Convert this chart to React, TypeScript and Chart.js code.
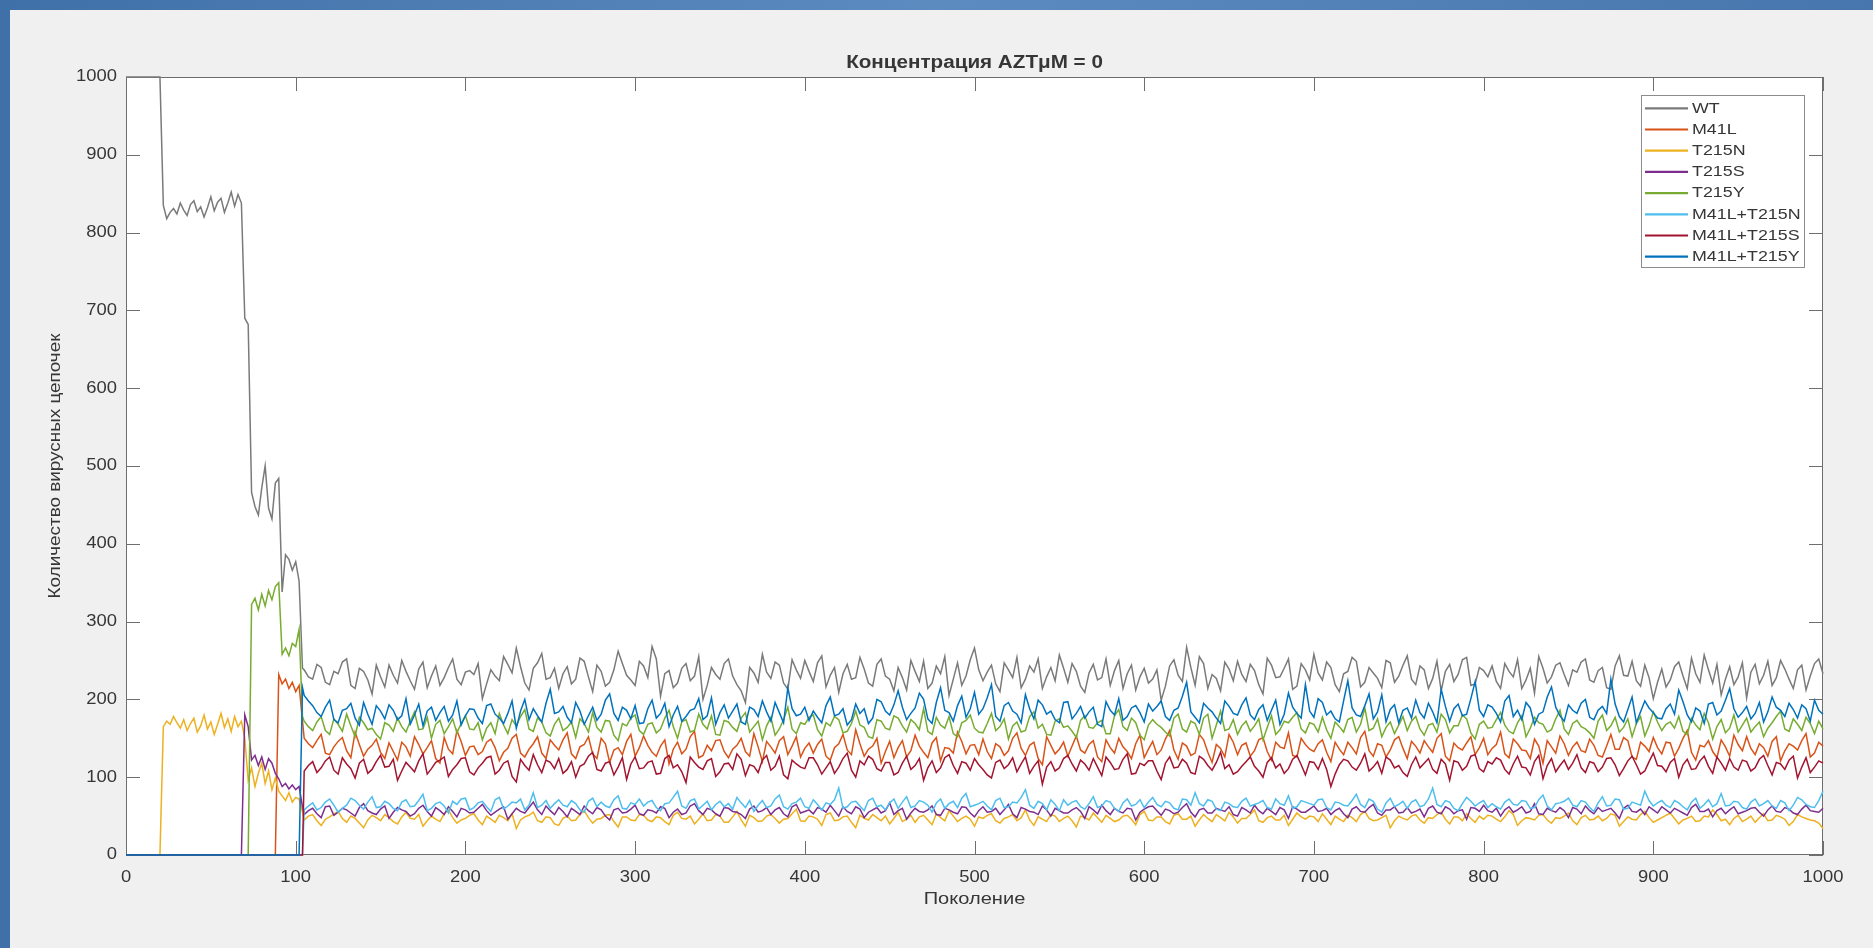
import React, { useEffect, useRef } from "react";
import { Chart, registerables } from "chart.js";

Chart.register(...registerables);

const chartTitle = "Концентрация AZTμM = 0";
const xAxisTitle = "Поколение";
const yAxisTitle = "Количество вирусных цепочек";

const seriesNames = ["WT", "M41L", "T215N", "T215S", "T215Y", "M41L+T215N", "M41L+T215S", "M41L+T215Y"];
const seriesColors = ["#7a7a7a", "#D95319", "#EDB120", "#7E2F8E", "#77AC30", "#4DBEEE", "#A2142F", "#0072BD"];

const xTickValues = [0, 100, 200, 300, 400, 500, 600, 700, 800, 900, 1000];
const yTickValues = [0, 100, 200, 300, 400, 500, 600, 700, 800, 900, 1000];

// generations 0..104 (early phase), then 105..1000 every 2.5 generations
const earlyGenerations = [0, 10, 20, 22, 24, 26, 28, 30, 32, 34, 36, 38, 40, 42, 44, 46, 48, 50, 52, 54, 56, 58, 60, 62, 64, 66, 68, 70, 72, 74, 76, 78, 80, 82, 84, 86, 88, 90, 92, 94, 96, 98, 100, 102, 104];
const lateGenerations = Array.from({ length: 359 }, (_, i) => 105 + 2.5 * i);

// early phase values
const wtEarly = [1000, 1000, 1000, 835, 818, 826, 831, 824, 838, 829, 822, 836, 841, 827, 833, 820, 832, 846, 828, 839, 844, 826, 838, 852, 834, 849, 838, 690, 682, 466, 448, 437, 472, 500, 446, 432, 478, 484, 338, 386, 380, 366, 377, 352, 240];
const m41lEarly = [0, 0, 0, 0, 0, 0, 0, 0, 0, 0, 0, 0, 0, 0, 0, 0, 0, 0, 0, 0, 0, 0, 0, 0, 0, 0, 0, 0, 0, 0, 0, 0, 0, 0, 0, 0, 0, 232, 220, 226, 214, 222, 210, 218, 172];
const t215nEarly = [0, 0, 0, 165, 172, 168, 178, 170, 163, 174, 160, 169, 176, 158, 166, 180, 162, 171, 155, 168, 182, 164, 175, 159, 178, 165, 172, 150, 96, 112, 88, 105, 118, 92, 108, 84, 99, 82, 76, 70, 80, 68, 74, 72, 55];
const t215sEarly = [0, 0, 0, 0, 0, 0, 0, 0, 0, 0, 0, 0, 0, 0, 0, 0, 0, 0, 0, 0, 0, 0, 0, 0, 0, 0, 0, 180, 165, 122, 128, 115, 126, 110, 124, 118, 105, 98, 88, 92, 85, 90, 84, 88, 62];
const t215yEarly = [0, 0, 0, 0, 0, 0, 0, 0, 0, 0, 0, 0, 0, 0, 0, 0, 0, 0, 0, 0, 0, 0, 0, 0, 0, 0, 0, 0, 0, 322, 330, 315, 335, 320, 340, 328, 345, 350, 258, 266, 256, 272, 268, 290, 178];
const m41lT215nEarly = [0, 0, 0, 0, 0, 0, 0, 0, 0, 0, 0, 0, 0, 0, 0, 0, 0, 0, 0, 0, 0, 0, 0, 0, 0, 0, 0, 0, 0, 0, 0, 0, 0, 0, 0, 0, 0, 0, 0, 0, 0, 0, 0, 0, 0];
const m41lT215sEarly = [0, 0, 0, 0, 0, 0, 0, 0, 0, 0, 0, 0, 0, 0, 0, 0, 0, 0, 0, 0, 0, 0, 0, 0, 0, 0, 0, 0, 0, 0, 0, 0, 0, 0, 0, 0, 0, 0, 0, 0, 0, 0, 0, 0, 0];
const m41lT215yEarly = [0, 0, 0, 0, 0, 0, 0, 0, 0, 0, 0, 0, 0, 0, 0, 0, 0, 0, 0, 0, 0, 0, 0, 0, 0, 0, 0, 0, 0, 0, 0, 0, 0, 0, 0, 0, 0, 0, 0, 0, 0, 0, 0, 0, 215];

// late phase: values at generations 105, 110, ..., 1000
const wtLate = [
  238, 226, 241, 219, 233, 252, 214, 236, 207, 229,
  244, 221, 236, 213, 248, 230, 218, 241, 226, 235,
  232, 201, 238, 224, 245, 266, 221, 240, 259, 228,
  214, 242, 226, 249, 210, 236, 222, 262, 231, 218,
  243, 268, 204, 237, 221, 246, 230, 200, 241, 226,
  252, 219, 196, 234, 258, 227, 244, 213, 238, 250,
  223, 256, 231, 209, 245, 228, 239, 217, 252, 226,
  241, 212, 236, 249, 221, 233, 205, 247, 230, 266,
  224, 244, 210, 238, 254, 226, 235, 214, 241, 257,
  222, 236, 209, 245, 228, 218, 250, 233, 212, 240,
  226, 199, 243, 231, 267, 218, 246, 232, 211, 239,
  249, 223, 237, 207, 244, 229, 252, 217, 238, 258,
  225, 241, 210, 236, 249, 222, 234, 215, 247, 230,
  256, 219, 238, 227, 211, 245, 232, 254, 220, 237,
  243, 214, 236, 251, 225, 208, 240, 229, 247, 218,
  235, 252, 222, 241, 213, 256, 230, 224, 244, 201,
  239, 225, 248, 214, 233, 257, 221, 206, 242, 229,
  202, 245, 231, 218, 250, 226, 238, 212, 246, 233,
];
// values at generations 107.5, 112.5, ..., 997.5
const wtMid = [
  229, 245, 222, 236, 248, 218, 240, 225, 244, 216,
  231, 250, 224, 239, 215, 243, 228, 252, 219, 237,
  246, 220, 230, 255, 234, 242, 212, 247, 226, 240,
  233, 220, 253, 229, 244, 217, 238, 246, 225, 249,
  228, 252, 233, 215, 240, 224, 255, 218, 232, 246,
  230, 211, 241, 222, 235, 248, 221, 251, 227, 236,
  247, 216, 241, 233, 226, 254, 221, 245, 230, 211,
  228, 250, 223, 214, 243, 255, 226, 218, 251, 238,
  235, 220, 247, 228, 215, 243, 252, 229, 224, 240,
  246, 217, 234, 225, 252, 237, 214, 244, 229, 221,
  238, 217, 251, 223, 241, 255, 214, 227, 248, 224,
  232, 245, 219, 253, 228, 240, 213, 246, 225, 234,
  248, 219, 233, 254, 216, 241, 227, 250, 222, 244,
  226, 243, 214, 249, 236, 223, 251, 218, 241, 229,
  223, 246, 229, 214, 240, 255, 221, 244, 232, 238,
  248, 225, 237, 215, 243, 231, 249, 217, 228, 222,
  216, 242, 230, 253, 222, 238, 245, 226, 219, 247,
  235, 220, 249, 228, 239, 214, 244, 230, 252,
];

const m41lLate = [
  150, 138, 155, 129, 146, 134, 158, 127, 141, 132,
  144, 122, 139, 152, 130, 147, 118, 136, 160, 128,
  140, 133, 149, 121, 137, 155, 126, 143, 131, 148,
  135, 157, 124, 142, 130, 150, 119, 138, 146, 127,
  153, 132, 140, 117, 145, 136, 159, 128, 134, 148,
  125, 141, 133, 156, 120, 139, 147, 129, 152, 137,
  131, 149, 122, 143, 135, 161, 127, 140, 118, 146,
  138, 126, 154, 132, 144, 121, 137, 158, 130, 142,
  149, 124, 139, 134, 157, 128, 145, 116, 141, 136,
  127, 153, 131, 147, 120, 138, 150, 133, 143, 125,
  146, 135, 160, 123, 140, 131, 148, 119, 137, 155,
  129, 144, 134, 151, 122, 139, 157, 126, 142, 133,
  148, 120, 136, 145, 130, 159, 127, 141, 135, 152,
  124, 140, 147, 132, 156, 121, 138, 144, 129, 150,
  137, 158, 125, 143, 134, 149, 118, 139, 153, 128,
  145, 132, 141, 126, 155, 136, 147, 123, 140, 151,
  130, 144, 137, 160, 122, 139, 133, 148, 127, 142,
  152, 129, 138, 146, 121, 143, 135, 156, 131, 140,
];
const m41lMid = [
  143, 147, 131, 139, 151, 125, 142, 136, 149, 124,
  133, 145, 127, 142, 138, 124, 151, 130, 146, 139,
  129, 145, 138, 132, 150, 131, 136, 152, 124, 141,
  148, 130, 139, 152, 124, 143, 135, 129, 155, 138,
  141, 127, 148, 136, 130, 152, 125, 141, 147, 133,
  136, 150, 127, 139, 146, 131, 152, 140, 126, 144,
  142, 127, 138, 155, 129, 143, 136, 150, 133, 125,
  147, 134, 140, 125, 151, 138, 131, 146, 141, 129,
  133, 143, 128, 150, 137, 141, 124, 152, 130, 145,
  140, 135, 142, 126, 148, 131, 139, 124, 154, 136,
  129, 149, 135, 144, 128, 155, 132, 142, 126, 145,
  141, 127, 148, 133, 145, 137, 128, 150, 136, 143,
  132, 145, 129, 138, 151, 134, 143, 126, 148, 137,
  146, 131, 139, 150, 127, 144, 135, 152, 138, 129,
  142, 130, 149, 135, 124, 140, 147, 131, 143, 139,
  134, 149, 128, 140, 136, 151, 126, 145, 133, 138,
  145, 127, 150, 132, 141, 147, 125, 139, 154, 134,
  137, 143, 127, 152, 134, 140, 147, 126, 145,
];

const t215nLate = [
  45, 52, 38, 49, 56, 42, 47, 35, 51, 44,
  48, 40, 55, 46, 37, 50, 43, 58, 41, 47,
  53, 39, 46, 51, 44, 34, 49, 55, 42, 48,
  38, 50, 45, 57, 41, 47, 52, 36, 49, 44,
  51, 43, 48, 39, 55, 46, 40, 53, 45, 50,
  42, 56, 37, 48, 44, 52, 41, 47, 59, 43,
  49, 38, 54, 45, 50, 35, 47, 52, 44, 40,
  55, 46, 42, 51, 39, 48, 57, 43, 50, 37,
  47, 53, 41, 49, 44, 58, 38, 46, 52, 43,
  50, 36, 48, 54, 42, 47, 45, 51, 39, 56,
  44, 49, 40, 53, 46, 37, 52, 43, 48, 55,
  41, 47, 58, 42, 50, 45, 38, 54, 46, 49,
  53, 39, 46, 51, 43, 56, 44, 48, 35, 50,
  45, 52, 41, 47, 55, 40, 49, 53, 42, 46,
  50, 43, 57, 38, 48, 45, 52, 41, 47, 54,
  39, 51, 46, 44, 53, 37, 49, 45, 56, 42,
  48, 54, 40, 47, 43, 50, 58, 44, 39, 51,
  46, 42, 53, 45, 49, 38, 52, 47, 44, 34,
];
const t215nMid = [
  50, 44, 46, 53, 47, 50, 41, 45, 48, 52,
  43, 49, 47, 52, 44, 46, 53, 48, 45, 51,
  45, 50, 42, 48, 53, 45, 51, 44, 49, 40,
  47, 44, 52, 48, 46, 51, 43, 49, 45, 52,
  45, 49, 43, 51, 47, 50, 46, 44, 52, 42,
  49, 45, 51, 43, 50, 47, 46, 53, 44, 50,
  46, 52, 44, 49, 42, 51, 45, 48, 50, 47,
  43, 51, 49, 45, 53, 44, 50, 47, 46, 49,
  51, 44, 47, 52, 48, 45, 49, 43, 50, 47,
  44, 50, 45, 48, 51, 43, 50, 46, 52, 45,
  49, 43, 51, 46, 50, 45, 47, 52, 44, 49,
  47, 52, 44, 48, 45, 51, 46, 49, 50, 43,
  46, 50, 43, 48, 52, 47, 45, 51, 44, 47,
  50, 45, 48, 52, 46, 49, 44, 47, 50, 51,
  46, 49, 52, 44, 47, 51, 45, 48, 50, 44,
  48, 45, 50, 47, 51, 43, 46, 52, 48, 45,
  51, 47, 45, 50, 44, 49, 52, 46, 47, 43,
  50, 48, 44, 51, 46, 43, 49, 45, 41,
];

const t215sLate = [
  52, 60, 48, 63, 55, 58, 50, 66, 54, 59,
  47, 61, 56, 53, 64, 50, 57, 62, 49, 58,
  55, 65, 51, 59, 46, 60, 54, 68, 52, 57,
  61, 49, 56, 63, 53, 58, 45, 60, 55, 64,
  51, 57, 62, 48, 59, 54, 66, 52, 58, 50,
  60, 55, 47, 63, 57, 52, 61, 49, 65, 56,
  53, 59, 64, 50, 56, 62, 48, 58, 54, 67,
  57, 46, 60, 55, 63, 51, 58, 53, 61, 49,
  62, 56, 52, 65, 48, 59, 55, 63, 50, 57,
  54, 61, 47, 58, 64, 52, 56, 60, 45, 59,
  63, 51, 57, 55, 66, 49, 60, 54, 58, 62,
  50, 58, 64, 53, 56, 61, 47, 59, 55, 63,
  57, 52, 60, 48, 62, 55, 65, 51, 58, 54,
  61, 56, 49, 63, 53, 59, 57, 46, 60, 64,
  55, 50, 62, 58, 54, 66, 52, 57, 61, 48,
  59, 63, 53, 56, 60, 47, 64, 55, 52, 58,
  62, 54, 57, 51, 65, 56, 49, 60, 58, 53,
  57, 61, 50, 63, 55, 59, 52, 64, 56, 60,
];
const t215sMid = [
  57, 53, 62, 51, 60, 54, 61, 57, 52, 63,
  55, 58, 50, 60, 56, 61, 52, 56, 60, 54,
  60, 57, 55, 62, 53, 56, 61, 58, 63, 52,
  56, 60, 52, 57, 61, 50, 58, 54, 59, 53,
  58, 54, 60, 55, 52, 63, 57, 60, 53, 61,
  56, 52, 59, 55, 61, 58, 53, 62, 54, 58,
  61, 55, 57, 62, 53, 59, 55, 61, 57, 52,
  60, 54, 56, 58, 52, 60, 55, 62, 54, 57,
  55, 60, 58, 53, 61, 56, 52, 58, 60, 54,
  58, 56, 62, 53, 57, 60, 54, 59, 55, 62,
  57, 59, 53, 61, 55, 58, 54, 60, 56, 52,
  61, 54, 57, 60, 52, 58, 62, 55, 59, 56,
  60, 57, 53, 59, 56, 61, 54, 58, 62, 55,
  54, 59, 60, 55, 62, 53, 58, 61, 56, 57,
  60, 58, 55, 62, 56, 53, 60, 55, 57, 61,
  53, 57, 61, 58, 54, 60, 56, 59, 62, 54,
  58, 60, 54, 61, 56, 59, 57, 53, 62, 55,
  60, 55, 58, 56, 61, 54, 59, 57, 55,
];

const t215yLate = [
  172, 160, 178, 155, 168, 181, 152, 170, 163, 149,
  167, 176, 158, 184, 162, 150, 173, 165, 157, 179,
  161, 148, 170, 182, 156, 166, 187, 159, 171, 153,
  176, 164, 151, 169, 183, 158, 172, 147, 166, 180,
  155, 170, 162, 186, 150, 174, 160, 168, 179, 154,
  171, 159, 183, 165, 148, 177, 162, 190, 156, 168,
  180, 153, 166, 174, 159, 185, 164, 150, 172, 161,
  176, 158, 169, 188, 155, 167, 178, 152, 173, 163,
  157, 182, 165, 149, 171, 160, 184, 168, 154, 175,
  166, 151, 179, 163, 173, 156, 187, 160, 170, 148,
  174, 164, 153, 181, 158, 169, 176, 150, 185, 162,
  155, 172, 166, 148, 179, 161, 170, 183, 157, 168,
  177, 150, 165, 174, 158, 189, 163, 152, 171, 167,
  160, 178, 154, 169, 181, 157, 166, 175, 149, 172,
  164, 183, 159, 170, 152, 177, 168, 161, 186, 155,
  173, 162, 150, 180, 166, 158, 175, 169, 153, 184,
  160, 171, 178, 155, 167, 182, 149, 174, 163, 158,
  176, 165, 152, 170, 185, 159, 168, 177, 156, 162,
];
const t215yMid = [
  165, 171, 160, 175, 159, 166, 177, 161, 155, 170,
  159, 165, 172, 161, 177, 168, 156, 175, 169, 162,
  170, 163, 156, 167, 174, 178, 162, 176, 157, 168,
  160, 171, 175, 158, 164, 173, 154, 169, 176, 160,
  168, 157, 176, 165, 171, 158, 181, 162, 155, 173,
  164, 176, 158, 172, 166, 154, 174, 162, 170, 177,
  161, 170, 178, 157, 169, 167, 152, 174, 163, 179,
  166, 174, 161, 159, 177, 163, 156, 170, 180, 158,
  169, 160, 175, 166, 158, 178, 163, 155, 172, 164,
  159, 173, 164, 170, 156, 179, 165, 176, 154, 167,
  168, 158, 176, 162, 172, 155, 181, 167, 160, 174,
  166, 159, 175, 164, 155, 172, 177, 162, 170, 158,
  161, 171, 158, 177, 168, 160, 175, 164, 156, 178,
  172, 162, 167, 158, 174, 166, 180, 157, 168, 163,
  174, 167, 156, 179, 163, 170, 158, 175, 162, 169,
  165, 157, 172, 160, 177, 164, 152, 178, 166, 171,
  168, 163, 159, 176, 161, 170, 165, 157, 180, 167,
  158, 171, 163, 178, 162, 175, 160, 169, 172,
];

const m41lT215nLate = [
  58, 67, 61, 72, 55, 64, 70, 59, 75, 62,
  66, 57, 71, 63, 78, 60, 68, 54, 65, 73,
  61, 69, 56, 74, 63, 67, 58, 80, 64, 60,
  71, 62, 66, 55, 73, 68, 61, 76, 59, 65,
  63, 70, 57, 67, 82, 60, 72, 64, 58, 69,
  66, 74, 61, 56, 70, 63, 77, 59, 68, 62,
  71, 58, 65, 86, 62, 69, 57, 73, 64, 67,
  60, 75, 63, 68, 55, 72, 66, 61, 79, 64,
  69, 58, 73, 62, 67, 84, 60, 66, 71, 57,
  64, 70, 59, 75, 63, 68, 56, 72, 65, 61,
  74, 62, 67, 58, 71, 80, 63, 69, 57, 66,
  61, 73, 65, 70, 59, 66, 76, 62, 68, 64,
  72, 58, 67, 63, 78, 61, 69, 55, 73, 65,
  60, 71, 64, 86, 62, 68, 57, 74, 63, 70,
  66, 59, 72, 64, 69, 61, 77, 58, 67, 73,
  62, 68, 56, 75, 64, 71, 60, 66, 82, 63,
  70, 61, 67, 58, 73, 65, 62, 79, 64, 68,
  59, 72, 66, 63, 70, 57, 74, 65, 61, 82,
];
const m41lT215nMid = [
  63, 58, 68, 64, 60, 73, 64, 68, 61, 69,
  60, 68, 62, 70, 57, 66, 63, 69, 72, 58,
  67, 62, 71, 59, 68, 72, 64, 61, 70, 66,
  64, 70, 58, 69, 62, 63, 71, 60, 67, 72,
  68, 61, 66, 74, 63, 70, 59, 69, 65, 62,
  59, 67, 70, 64, 61, 72, 62, 66, 73, 60,
  65, 67, 71, 60, 68, 63, 70, 62, 58, 72,
  68, 61, 70, 64, 67, 60, 69, 73, 62, 66,
  63, 70, 61, 68, 74, 64, 69, 58, 65, 71,
  68, 62, 66, 61, 70, 60, 67, 63, 71, 68,
  65, 69, 60, 72, 64, 66, 71, 59, 68, 62,
  69, 63, 67, 61, 72, 64, 60, 70, 66, 71,
  61, 68, 64, 70, 65, 72, 59, 67, 62, 69,
  68, 62, 72, 65, 70, 60, 66, 69, 67, 61,
  62, 68, 65, 70, 60, 71, 63, 66, 69, 64,
  70, 61, 67, 63, 72, 59, 68, 64, 70, 67,
  64, 70, 62, 68, 60, 71, 66, 63, 69, 61,
  68, 63, 70, 60, 67, 64, 71, 62, 70,
];

const m41lT215sLate = [
  108, 120, 112, 126, 104, 117, 99, 123, 110, 128,
  114, 96, 119, 107, 130, 111, 122, 101, 116, 125,
  103, 118, 127, 109, 121, 94, 115, 129, 106, 119,
  124, 110, 100, 117, 132, 108, 120, 113, 97, 126,
  112, 121, 105, 128, 116, 93, 119, 110, 124, 107,
  118, 130, 102, 114, 122, 109, 127, 98, 117, 111,
  125, 104, 120, 113, 131, 100, 116, 123, 108, 119,
  106, 127, 115, 96, 121, 112, 129, 105, 118, 124,
  110, 99, 122, 116, 107, 126, 114, 91, 120, 112,
  128, 108, 117, 124, 102, 119, 111, 130, 105, 115,
  121, 97, 126, 113, 118, 104, 123, 109, 132, 116,
  107, 120, 114, 100, 125, 117, 111, 128, 103, 119,
  124, 88, 116, 121, 109, 130, 113, 105, 122, 115,
  101, 126, 118, 110, 123, 96, 119, 114, 129, 107,
  117, 122, 104, 127, 112, 120, 98, 124, 115, 110,
  129, 106, 118, 113, 125, 102, 121, 116, 108, 131,
  114, 119, 100, 123, 111, 127, 105, 118, 124, 109,
  120, 112, 128, 103, 117, 122, 99, 125, 113, 118,
];
const m41lT215sMid = [
  115, 106, 121, 109, 125, 111, 118, 105, 120, 113,
  123, 108, 113, 121, 104, 119, 126, 110, 124, 107,
  112, 125, 104, 118, 101, 123, 109, 116, 122, 111,
  105, 120, 114, 127, 110, 118, 103, 125, 117, 111,
  119, 104, 124, 112, 107, 126, 113, 121, 101, 117,
  110, 123, 116, 106, 128, 114, 103, 122, 113, 125,
  116, 112, 105, 124, 109, 121, 127, 111, 119, 103,
  118, 110, 124, 112, 106, 125, 115, 120, 109, 116,
  103, 119, 111, 125, 117, 105, 121, 113, 108, 124,
  117, 122, 109, 113, 126, 110, 123, 104, 118, 121,
  108, 118, 112, 123, 106, 127, 115, 119, 111, 104,
  114, 126, 108, 119, 112, 105, 123, 116, 120, 110,
  110, 104, 123, 113, 118, 108, 120, 126, 112, 106,
  116, 112, 124, 105, 117, 121, 109, 127, 111, 120,
  125, 110, 117, 113, 103, 128, 115, 107, 122, 118,
  112, 120, 107, 124, 116, 111, 127, 104, 120, 115,
  107, 124, 116, 110, 121, 114, 126, 109, 113, 122,
  108, 123, 115, 119, 110, 127, 113, 106, 121,
];

const m41lT215yLate = [
  205, 192, 178, 199, 170, 188, 176, 196, 168, 185,
  193, 174, 201, 180, 166, 190, 183, 172, 198, 179,
  187, 169, 194, 176, 182, 163, 200, 188, 171, 213,
  184, 177, 196, 168, 190, 181, 207, 173, 186, 192,
  170, 199, 182, 165, 191, 178, 188, 174, 202, 183,
  176, 194, 168, 187, 198, 172, 183, 215, 179, 190,
  185, 170, 203, 181, 167, 194, 188, 176, 197, 180,
  211, 174, 189, 200, 169, 215, 183, 192, 177, 209,
  188, 219, 172, 196, 181, 206, 175, 193, 185, 170,
  197, 182, 176, 190, 165, 186, 201, 178, 192, 171,
  185, 198, 173, 189, 222, 177, 195, 184, 169, 191,
  180, 202, 174, 193, 186, 168, 208, 182, 219, 177,
  196, 185, 171, 224, 180, 192, 175, 206, 187, 170,
  189, 199, 176, 184, 213, 172, 194, 181, 223, 178,
  190, 171, 205, 186, 196, 168, 184, 216, 179, 193,
  182, 200, 174, 191, 226, 178, 187, 170, 198, 183,
  175, 194, 212, 180, 189, 169, 196, 185, 214, 177,
  191, 182, 171, 203, 186, 195, 176, 188, 199, 181,
];
const m41lT215yMid = [
  198, 183, 190, 174, 186, 195, 167, 181, 192, 175,
  186, 179, 168, 194, 185, 173, 191, 180, 167, 188,
  176, 192, 181, 169, 198, 185, 174, 179, 195, 182,
  191, 170, 185, 179, 173, 199, 182, 190, 175, 169,
  188, 176, 195, 180, 172, 186, 201, 179, 168, 193,
  185, 171, 190, 178, 184, 196, 170, 188, 181, 173,
  177, 192, 179, 188, 174, 182, 169, 200, 185, 193,
  190, 182, 208, 175, 196, 186, 172, 204, 188, 181,
  202, 178, 192, 185, 170, 188, 199, 181, 174, 196,
  175, 191, 184, 168, 197, 180, 173, 189, 183, 194,
  191, 178, 186, 204, 184, 170, 189, 176, 198, 182,
  193, 180, 187, 173, 199, 181, 190, 176, 185, 201,
  180, 175, 198, 189, 178, 207, 184, 171, 193, 186,
  176, 183, 195, 170, 191, 188, 179, 201, 186, 193,
  182, 198, 178, 174, 189, 181, 203, 190, 172, 186,
  195, 177, 186, 182, 194, 171, 203, 184, 189, 176,
  188, 181, 197, 171, 185, 194, 180, 199, 188, 183,
  175, 196, 184, 190, 178, 187, 193, 172, 186,
];

const seriesEarly = [wtEarly, m41lEarly, t215nEarly, t215sEarly, t215yEarly, m41lT215nEarly, m41lT215sEarly, m41lT215yEarly];
const seriesLate = [wtLate, m41lLate, t215nLate, t215sLate, t215yLate, m41lT215nLate, m41lT215sLate, m41lT215yLate];
const seriesMid = [wtMid, m41lMid, t215nMid, t215sMid, t215yMid, m41lT215nMid, m41lT215sMid, m41lT215yMid];

function interleave(a: number[], b: number[]) {
  const out: number[] = [];
  for (let i = 0; i < a.length; i++) {
    out.push(a[i]);
    if (i < b.length) out.push(b[i]);
  }
  return out;
}

const FONT = "'Liberation Sans', Arial, Helvetica, sans-serif";
const TEXT_COLOR = "#363636";
const AXIS_COLOR = "#6e6e6e";

function stretchedText(ctx: CanvasRenderingContext2D, text: string, x: number, y: number, font: string, align: CanvasTextAlign, sx: number, rotate = 0) {
  ctx.save();
  ctx.translate(x, y);
  if (rotate) ctx.rotate(rotate);
  ctx.scale(sx, 1);
  ctx.font = font;
  ctx.textAlign = align;
  ctx.textBaseline = "middle";
  ctx.fillStyle = TEXT_COLOR;
  ctx.fillText(text, 0, 0);
  ctx.restore();
}

const matlabDecor = {
  id: "matlabDecor",
  beforeDraw(chart: any) {
    const { ctx, chartArea: a } = chart;
    ctx.save();
    ctx.fillStyle = "#ffffff";
    ctx.fillRect(a.left, a.top, a.right - a.left, a.bottom - a.top);
    ctx.restore();
  },
  beforeDatasetsDraw(chart: any) {
    const { ctx, chartArea: a, scales } = chart;
    const tl = 14;
    ctx.save();
    ctx.strokeStyle = AXIS_COLOR;
    ctx.lineWidth = 1;
    ctx.strokeRect(a.left + 0.5, a.top + 0.5, a.right - a.left - 1, a.bottom - a.top - 1);
    ctx.beginPath();
    xTickValues.forEach((v) => {
      const px = Math.round(scales.x.getPixelForValue(v)) + 0.5;
      ctx.moveTo(px, a.bottom);
      ctx.lineTo(px, a.bottom - tl);
      ctx.moveTo(px, a.top);
      ctx.lineTo(px, a.top + tl);
    });
    yTickValues.forEach((v) => {
      const py = Math.round(scales.y.getPixelForValue(v)) + 0.5;
      ctx.moveTo(a.left, py);
      ctx.lineTo(a.left + tl, py);
      ctx.moveTo(a.right, py);
      ctx.lineTo(a.right - tl, py);
    });
    ctx.stroke();
    ctx.restore();
  },
  afterDraw(chart: any) {
    const { ctx, chartArea: a, scales } = chart;
    const tickFont = `16px ${FONT}`;
    xTickValues.forEach((v) => {
      stretchedText(ctx, String(v), scales.x.getPixelForValue(v), a.bottom + 23, tickFont, "center", 1.15);
    });
    yTickValues.forEach((v) => {
      stretchedText(ctx, String(v), a.left - 9, scales.y.getPixelForValue(v), tickFont, "right", 1.15);
    });
    const cx = (a.left + a.right) / 2;
    stretchedText(ctx, chartTitle, cx, a.top - 14, `bold 17.5px ${FONT}`, "center", 1.18);
    stretchedText(ctx, xAxisTitle, cx, a.bottom + 44, `17px ${FONT}`, "center", 1.18);
    stretchedText(ctx, yAxisTitle, 46, (a.top + a.bottom) / 2, `16px ${FONT}`, "center", 1.18, -Math.PI / 2);

    // legend
    const bx = 1631, by = 85, bw = 163, bh = 172;
    ctx.save();
    ctx.fillStyle = "#ffffff";
    ctx.fillRect(bx, by, bw, bh);
    ctx.strokeStyle = "#8c8c8c";
    ctx.lineWidth = 1;
    ctx.strokeRect(bx + 0.5, by + 0.5, bw, bh);
    chart.data.datasets.forEach((ds: any, i: number) => {
      const y = by + 13.3 + i * 21.2;
      ctx.strokeStyle = ds.borderColor;
      ctx.lineWidth = 2.2;
      ctx.beginPath();
      ctx.moveTo(bx + 4, y);
      ctx.lineTo(bx + 47, y);
      ctx.stroke();
      stretchedText(ctx, ds.label, bx + 51, y, `15.5px ${FONT}`, "left", 1.15);
    });
    ctx.restore();
  },
};

export default function App() {
  const canvasRef = useRef<HTMLCanvasElement | null>(null);

  useEffect(() => {
    if (!canvasRef.current) return;
    const gens = earlyGenerations.concat(lateGenerations);
    const datasets = seriesNames.map((name, i) => {
      const values = seriesEarly[i].concat(interleave(seriesLate[i], seriesMid[i]));
      return {
        label: name,
        data: gens.map((g, j) => ({ x: g, y: values[j] })),
        borderColor: seriesColors[i],
        backgroundColor: seriesColors[i],
        borderWidth: 1.5,
        pointRadius: 0,
        tension: 0,
        fill: false,
        clip: 2,
        order: seriesNames.length - i,
      };
    });
    const chart = new Chart(canvasRef.current, {
      type: "line",
      data: { datasets },
      options: {
        animation: false,
        responsive: false,
        devicePixelRatio: 1,
        layout: { padding: { left: 0, top: 67, right: 50, bottom: 0 } },
        plugins: { legend: { display: false }, title: { display: false }, tooltip: { enabled: false } },
        scales: {
          x: {
            type: "linear",
            min: 0,
            max: 1000,
            ticks: { display: false, stepSize: 100 },
            grid: { display: false, drawTicks: false },
            border: { display: false },
            afterFit: (s: any) => { s.height = 93; },
          },
          y: {
            type: "linear",
            min: 0,
            max: 1000,
            ticks: { display: false, stepSize: 100 },
            grid: { display: false, drawTicks: false },
            border: { display: false },
            afterFit: (s: any) => { s.width = 116; },
          },
        },
      },
      plugins: [matlabDecor],
    } as any);
    return () => chart.destroy();
  }, []);

  return (
    <div style={{ position: "absolute", left: 0, top: 0, width: 1873, height: 948, background: "linear-gradient(90deg, #3f70a8, #5b8bbf 50%, #4676ad)", overflow: "hidden" }}>
      <canvas ref={canvasRef} width={1863} height={938} style={{ position: "absolute", left: 10, top: 10, width: 1863, height: 938, background: "#f0f0f0" }} />
    </div>
  );
}
